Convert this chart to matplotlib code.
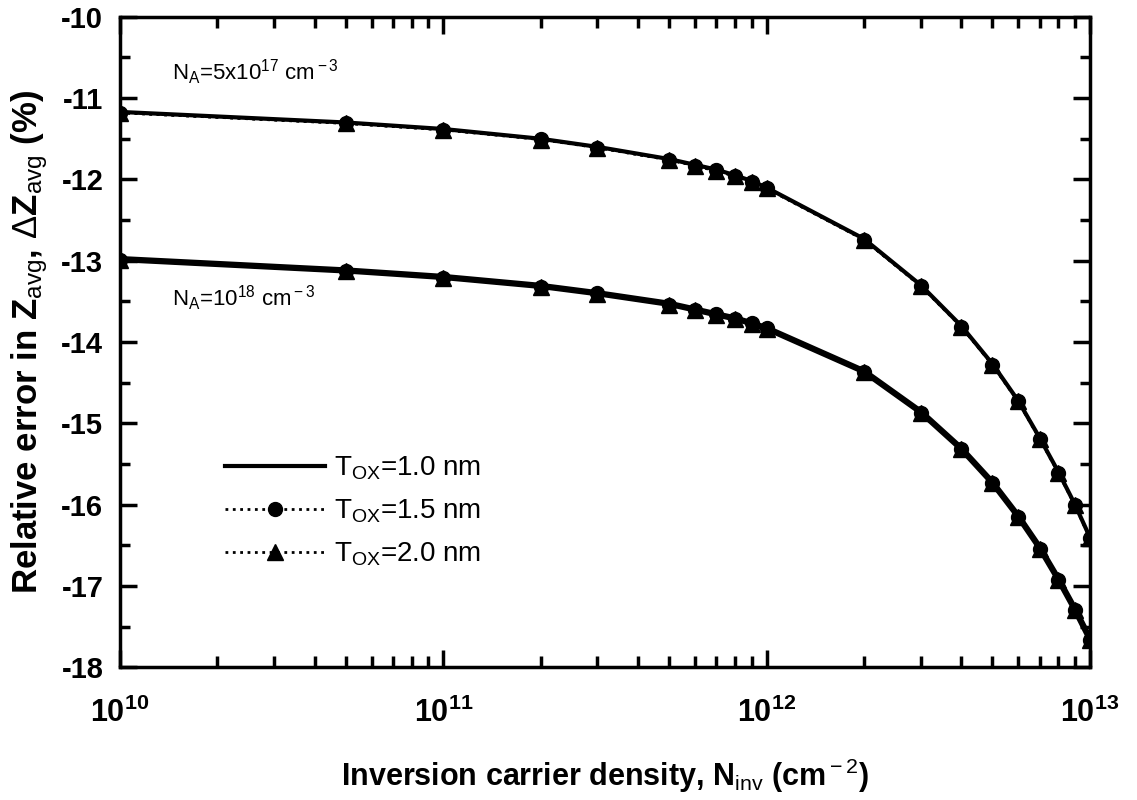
import matplotlib
matplotlib.use("Agg")
import matplotlib.pyplot as plt
from matplotlib.ticker import LogLocator, FixedLocator, NullFormatter

plt.rcParams['font.family'] = ['Liberation Sans', 'DejaVu Sans']
plt.rcParams['mathtext.fontset'] = 'custom'
plt.rcParams['mathtext.rm'] = 'Liberation Sans'
plt.rcParams['mathtext.it'] = 'Liberation Sans:italic'
plt.rcParams['mathtext.bf'] = 'Liberation Sans:bold'

# Inversion carrier density (cm^-2)
n_inv = [1e10, 5e10, 1e11, 2e11, 3e11, 5e11, 6e11, 7e11, 8e11, 9e11,
         1e12, 2e12, 3e12, 4e12, 5e12, 6e12, 7e12, 8e12, 9e12, 1e13]

# Relative error (%) for N_A = 5e17 cm^-3
na5e17_tox10 = [-11.17, -11.30, -11.38, -11.50, -11.60, -11.75, -11.82, -11.88,
                -11.95, -12.02, -12.10, -12.73, -13.30, -13.80, -14.27, -14.72,
                -15.18, -15.60, -16.00, -16.40]
na5e17_tox15 = [-11.18, -11.31, -11.39, -11.50, -11.61, -11.76, -11.83, -11.89,
                -11.96, -12.03, -12.11, -12.74, -13.31, -13.81, -14.28, -14.73,
                -15.19, -15.61, -16.01, -16.41]
na5e17_tox20 = [-11.18, -11.31, -11.39, -11.51, -11.61, -11.76, -11.83, -11.90,
                -11.96, -12.03, -12.11, -12.74, -13.31, -13.81, -14.28, -14.73,
                -15.19, -15.61, -16.01, -16.41]

# Relative error (%) for N_A = 1e18 cm^-3
na1e18_tox10 = [-12.98, -13.12, -13.20, -13.31, -13.40, -13.53, -13.60, -13.66,
                -13.71, -13.77, -13.83, -14.36, -14.86, -15.31, -15.73, -16.14,
                -16.53, -16.92, -17.29, -17.65]
na1e18_tox15 = [-12.99, -13.13, -13.21, -13.32, -13.40, -13.54, -13.61, -13.66,
                -13.72, -13.77, -13.83, -14.37, -14.87, -15.32, -15.74, -16.15,
                -16.54, -16.93, -17.30, -17.66]
na1e18_tox20 = [-12.99, -13.13, -13.21, -13.32, -13.41, -13.54, -13.61, -13.67,
                -13.72, -13.78, -13.84, -14.37, -14.87, -15.32, -15.74, -16.15,
                -16.54, -16.93, -17.30, -17.66]

legend_labels = [r'T$_{\rm OX}$=1.0 nm', r'T$_{\rm OX}$=1.5 nm', r'T$_{\rm OX}$=2.0 nm']
x_tick_labels = [r'$\mathbf{10^{10}}$', r'$\mathbf{10^{11}}$',
                 r'$\mathbf{10^{12}}$', r'$\mathbf{10^{13}}$']
y_ticks = list(range(-18, -9))

fig = plt.figure(figsize=(11.37, 8.0), dpi=100)
ax = fig.add_axes([0.1055, 0.166, 0.853, 0.813])

# Tox = 1.0 nm: solid line, no markers
ax.plot(n_inv, na5e17_tox10, '-', color='black', lw=3.0, label=legend_labels[0])
ax.plot(n_inv, na1e18_tox10, '-', color='black', lw=4.5)
# Tox = 1.5 nm: dotted with circles
ax.plot(n_inv, na5e17_tox15, ':', color='black', lw=2.0, marker='o', ms=10,
        label=legend_labels[1])
ax.plot(n_inv, na1e18_tox15, ':', color='black', lw=2.0, marker='o', ms=10)
# Tox = 2.0 nm: dotted with triangles
ax.plot(n_inv, na5e17_tox20, ':', color='black', lw=2.0, marker='^', ms=12,
        label=legend_labels[2])
ax.plot(n_inv, na1e18_tox20, ':', color='black', lw=2.0, marker='^', ms=12)

ax.set_xscale('log')
ax.set_xlim(1e10, 1e13)
ax.set_ylim(-18, -10)

ax.xaxis.set_major_locator(FixedLocator([1e10, 1e11, 1e12, 1e13]))
ax.xaxis.set_minor_locator(LogLocator(base=10, subs=range(2, 10)))
ax.xaxis.set_minor_formatter(NullFormatter())
ax.set_xticklabels(x_tick_labels)
ax.yaxis.set_major_locator(FixedLocator(y_ticks))
ax.yaxis.set_minor_locator(FixedLocator([v + 0.5 for v in y_ticks[:-1]]))
ax.set_yticklabels([str(v) for v in y_ticks])

ax.tick_params(which='both', direction='in', top=True, right=True, width=2.5)
ax.tick_params(axis='y', which='major', length=12, labelsize=21, pad=12)
ax.tick_params(axis='y', which='minor', length=7)
ax.tick_params(axis='x', which='major', length=12, labelsize=22, pad=22)
ax.tick_params(axis='x', which='minor', length=8)
for lab in ax.get_yticklabels():
    lab.set_fontweight('bold')
for sp in ax.spines.values():
    sp.set_linewidth(2.5)

ax.set_xlabel(r'Inversion carrier density, N$_{\rm inv}$ (cm$^{\rm -2}$)',
              fontsize=22, fontweight='bold', labelpad=20)
ax.set_ylabel(r'Relative error in Z$_{\rm avg}$, $\Delta$Z$_{\rm avg}$ (%)',
              fontsize=25, fontweight='bold', labelpad=8)

ax.text(1.45e10, -10.78, r'N$_{\rm A}$=5x10$^{\rm 17}$ cm$^{\rm -3}$', fontsize=16)
ax.text(1.45e10, -13.55, r'N$_{\rm A}$=10$^{\rm 18}$ cm$^{\rm -3}$', fontsize=16)

ax.legend(loc='upper left', bbox_to_anchor=(0.083, 0.365), frameon=False,
          fontsize=20, handlelength=3.6, handletextpad=0.3, labelspacing=0.55)

fig.savefig('out.png', dpi=100)
